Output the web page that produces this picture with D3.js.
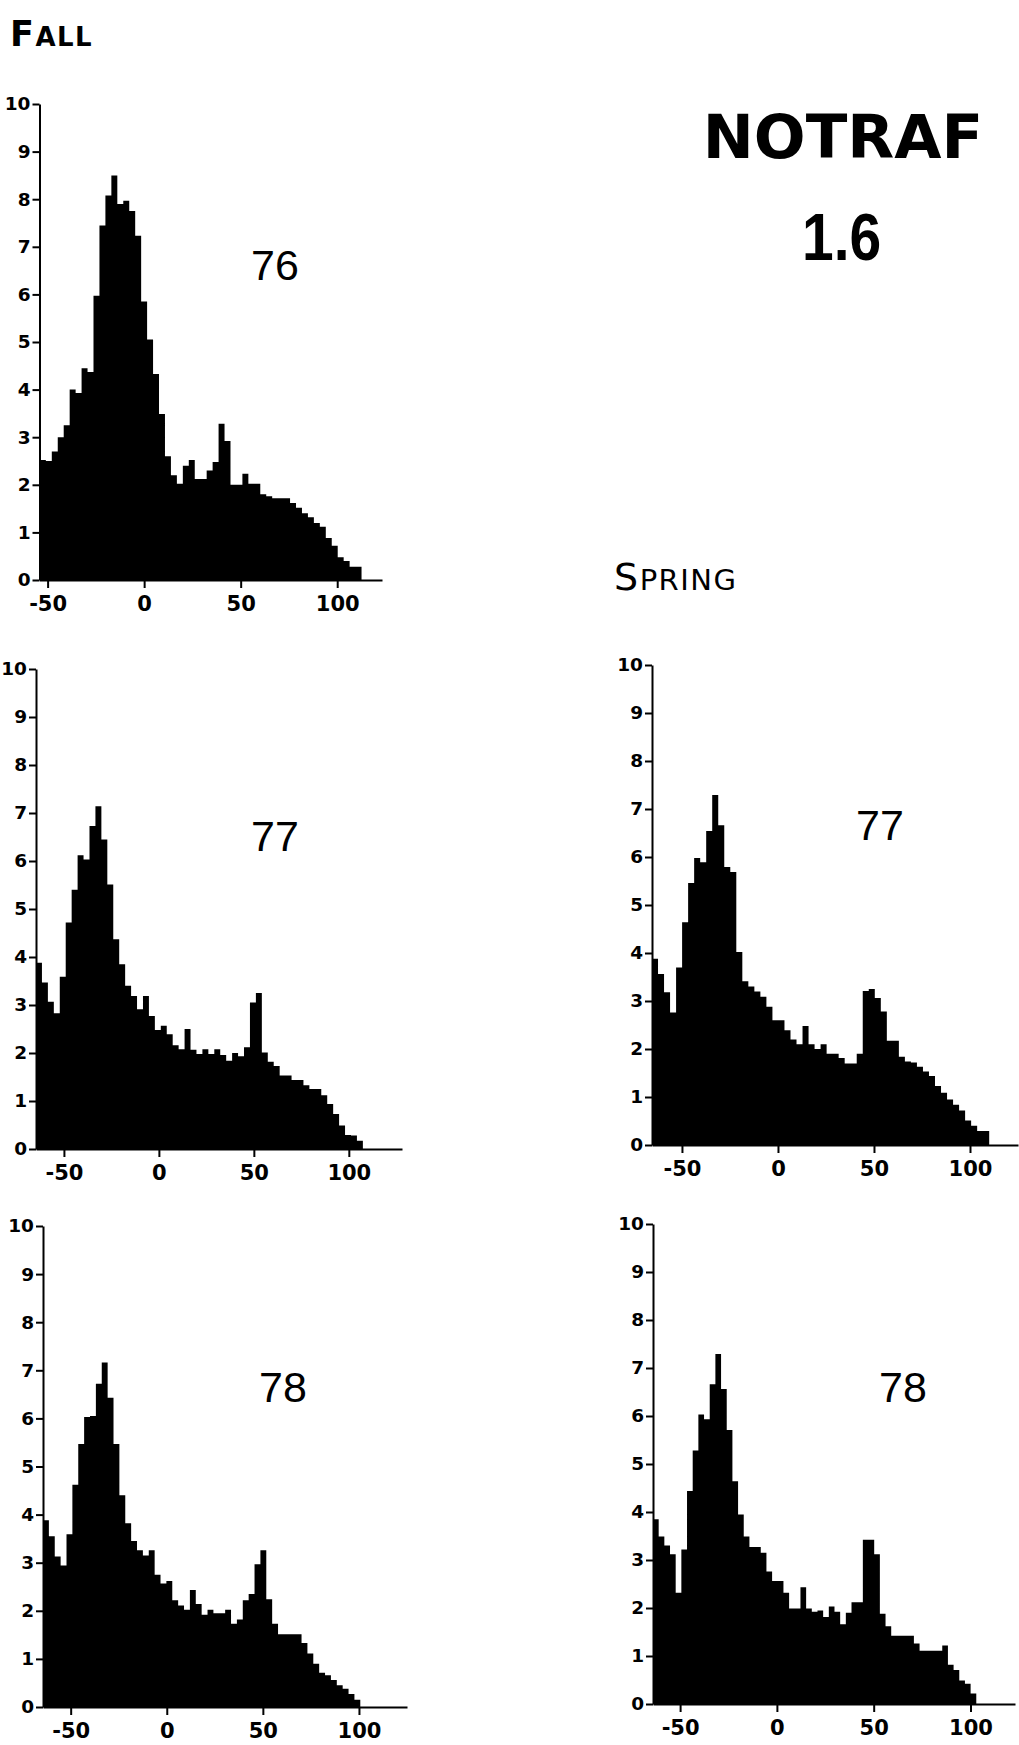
<!DOCTYPE html>
<html><head><meta charset="utf-8">
<script src="https://cdn.jsdelivr.net/npm/d3@7"></script>
<style>html,body{margin:0;padding:0;background:#fff;} svg{display:block;}</style>
</head><body>
<svg id="chart" width="1019" height="1745"></svg>
<script>
// ---------------- DATA ----------------
const yTicks = [0,1,2,3,4,5,6,7,8,9,10];
const xTicks = [-50, 0, 50, 100];
const yearLabels = ["76", "77", "77", "78", "78"];
const seasonLabels = ["Fall", "Spring"];
const titleLines = ["NOTRAF", "1.6"];

// Fall 76 histogram (bin heights, equal-width bins)
const fall76 = [2.52,2.5,2.7,3.0,3.25,4.0,3.93,4.45,4.37,5.97,7.45,8.08,8.5,7.9,7.97,7.75,7.23,5.85,5.05,4.33,
  3.49,2.6,2.2,2.02,2.4,2.52,2.12,2.12,2.3,2.48,3.28,2.92,2.0,2.0,2.23,2.02,2.02,1.8,1.76,1.72,
  1.72,1.72,1.62,1.52,1.4,1.32,1.2,1.12,0.88,0.72,0.48,0.4,0.28,0.28];
const fall76Bins = [-54, 112.6];   // first bin start, last bin end
const fall76Axis = [-54.2, 123.2];

// Fall 77
const fall77 = [3.88,3.47,3.07,2.83,3.59,4.72,5.4,6.12,6.03,6.73,7.14,6.45,5.51,4.37,3.85,3.4,3.19,2.91,3.19,2.77,
  2.48,2.57,2.39,2.16,2.08,2.5,2.07,1.98,2.08,1.98,2.08,1.96,1.84,2.0,1.93,2.12,3.05,3.25,2.01,1.82,
  1.73,1.53,1.53,1.44,1.44,1.33,1.25,1.25,1.12,0.94,0.73,0.49,0.29,0.28,0.17];
const fall77Bins = [-64.7, 107.4];
const fall77Axis = [-64.7, 128];

// Spring 77
const spring77 = [3.88,3.56,3.18,2.76,3.7,4.64,5.46,5.98,5.89,6.54,7.29,6.66,5.79,5.69,4.02,3.41,3.3,3.2,3.09,2.88,
  2.6,2.6,2.39,2.2,2.1,2.48,2.1,2.0,2.1,1.9,1.9,1.81,1.7,1.7,1.9,3.21,3.25,3.06,2.78,2.17,
  2.17,1.84,1.74,1.72,1.63,1.53,1.44,1.23,1.09,0.95,0.84,0.72,0.51,0.4,0.29,0.29];
const spring77Bins = [-65.6, 110];
const spring77Axis = [-65.6, 125];

// Fall 78
const fall78 = [3.88,3.55,3.13,2.94,3.59,4.62,5.47,6.03,6.05,6.72,7.16,6.43,5.47,4.4,3.82,3.45,3.26,3.15,3.26,2.75,
  2.57,2.62,2.22,2.11,2.02,2.43,2.14,1.92,2.02,1.95,1.95,2.02,1.73,1.82,2.22,2.35,2.97,3.26,2.24,1.73,
  1.51,1.51,1.51,1.51,1.33,1.11,0.9,0.71,0.66,0.56,0.45,0.38,0.27,0.15];
const fall78Bins = [-64.4, 100.7];
const fall78Axis = [-64.4, 125];

// Spring 78
const spring78 = [3.85,3.49,3.3,3.12,2.32,3.22,4.44,5.28,6.03,5.93,6.66,7.29,6.56,5.71,4.64,3.95,3.49,3.27,3.27,3.15,
  2.76,2.56,2.56,2.32,1.99,1.99,2.43,1.99,1.92,1.95,1.81,2.03,1.92,1.66,1.9,2.12,2.12,3.42,3.42,3.12,
  1.88,1.62,1.42,1.42,1.42,1.42,1.26,1.11,1.11,1.11,1.11,1.22,0.82,0.71,0.49,0.42,0.22];
const spring78Bins = [-64, 103];
const spring78Axis = [-64, 123];

// ---------------- LAYOUT ----------------
const panels = [
  {vals: fall76,   bins: fall76Bins,   axis: fall76Axis,   px: [39.5, 382], py: [580, 104],  lab: [275, 265]},
  {vals: fall77,   bins: fall77Bins,   axis: fall77Axis,   px: [36, 402],   py: [1149, 669], lab: [275, 836]},
  {vals: spring77, bins: spring77Bins, axis: spring77Axis, px: [652, 1018], py: [1145, 665], lab: [880, 825]},
  {vals: fall78,   bins: fall78Bins,   axis: fall78Axis,   px: [43, 407],   py: [1707, 1226], lab: [283, 1387]},
  {vals: spring78, bins: spring78Bins, axis: spring78Axis, px: [653, 1015], py: [1704, 1224], lab: [903, 1387]}
];

const svg = d3.select("#chart");
svg.append("rect").attr("width", 1019).attr("height", 1745).attr("fill", "#fff");

const tickFont = "'DejaVu Sans', Verdana, sans-serif";

panels.forEach((p, idx) => {
  const x = d3.scaleLinear().domain(p.axis).range(p.px);
  const y = d3.scaleLinear().domain([0, 10]).range(p.py);
  const g = svg.append("g");

  // histogram as stepped area
  const n = p.vals.length;
  const w = (p.bins[1] - p.bins[0]) / n;
  const pts = p.vals.map((v, i) => ({x: p.bins[0] + i * w, v}));
  pts.push({x: p.bins[1], v: p.vals[n - 1]});
  const area = d3.area()
    .x(d => x(d.x))
    .y0(y(0))
    .y1(d => y(d.v))
    .curve(d3.curveStepAfter);
  g.append("path").datum(pts).attr("d", area).attr("fill", "#000");

  // y axis
  const ya = d3.axisLeft(y).tickValues(yTicks).tickSize(7).tickSizeOuter(0).tickPadding(2)
    .tickFormat(d3.format("d"));
  const yg = g.append("g").attr("transform", `translate(${p.px[0]},0)`).call(ya);
  yg.select(".domain").attr("stroke", "#000").attr("stroke-width", 2);
  yg.selectAll(".tick line").attr("stroke", "#000").attr("stroke-width", 2);
  yg.selectAll(".tick text").attr("font-family", tickFont).attr("font-weight", "bold")
    .attr("font-size", 18.5).attr("fill", "#000");

  // x axis
  const xa = d3.axisBottom(x).tickValues(xTicks).tickSize(8).tickSizeOuter(0).tickPadding(8)
    .tickFormat(d3.format("d"));
  const xg = g.append("g").attr("transform", `translate(0,${p.py[0]})`).call(xa);
  xg.select(".domain").attr("stroke", "#000").attr("stroke-width", 2);
  xg.selectAll(".tick line").attr("stroke", "#000").attr("stroke-width", 2);
  xg.selectAll(".tick text").attr("font-family", tickFont).attr("font-weight", "bold")
    .attr("font-size", 21).attr("fill", "#000").text(d => d < 0 ? "-" + Math.abs(d) : d);

  // year label
  g.append("text").attr("x", p.lab[0]).attr("y", p.lab[1] + 15)
    .attr("text-anchor", "middle")
    .attr("font-family", "'Liberation Sans Narrow', 'Liberation Sans', Arial, sans-serif")
    .attr("font-size", 43).attr("fill", "#000").text(yearLabels[idx]);
});

// season labels (small caps)
function smallCaps(xp, yp, word, big, small, sp, weight) {
  const t = svg.append("text").attr("x", xp).attr("y", yp)
    .attr("font-family", tickFont).attr("font-weight", weight).attr("fill", "#000").attr("letter-spacing", sp);
  t.append("tspan").attr("font-size", big).text(word[0].toUpperCase());
  t.append("tspan").attr("font-size", small).text(word.slice(1).toUpperCase());
}
smallCaps(10, 46, seasonLabels[0], 35, 26, 1.5, "bold");
smallCaps(614, 590, seasonLabels[1], 38, 29, 1.5, "normal");

// title
svg.append("text").attr("x", 843).attr("y", 158).attr("text-anchor", "middle")
  .attr("font-family", tickFont).attr("font-weight", "bold").attr("font-size", 61)
  .attr("fill", "#000").text(titleLines[0]);
svg.append("text").attr("transform", "translate(802,260) scale(0.85,1)")
  .attr("font-family", "'Liberation Sans', Arial, sans-serif").attr("font-weight", "bold").attr("font-size", 67)
  .attr("fill", "#000").text(titleLines[1]);
</script>
</body></html>
